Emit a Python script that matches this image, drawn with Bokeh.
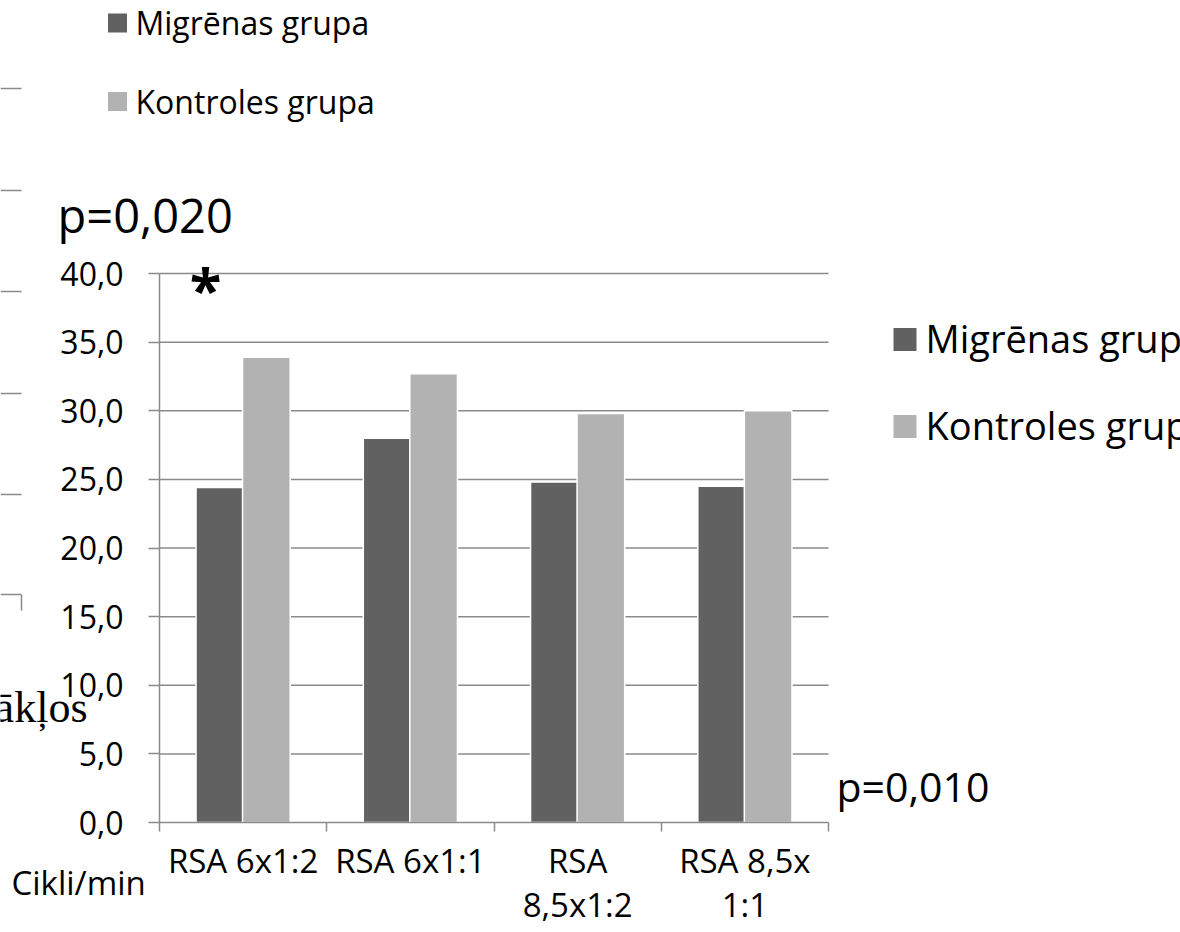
from bokeh.plotting import figure
from bokeh.models import Range1d, LinearAxis, FixedTicker, CustomJSTickFormatter, Label
from bokeh.embed import file_html
from bokeh.resources import INLINE

# ---------------- data ----------------
categories = ["RSA 6x1:2", "RSA 6x1:1", "RSA\n8,5x1:2", "RSA 8,5x\n1:1"]
migrenas_grupa = [24.4, 28.0, 24.8, 24.5]
kontroles_grupa = [33.9, 32.7, 29.8, 30.0]
series_names = ["Migrēnas grupa", "Kontroles grupa"]
y_ticks = [0, 5, 10, 15, 20, 25, 30, 35, 40]
x_title = "Cikli/min"
p_values = ["p=0,020", "p=0,010"]
star = "*"
stray_text = "ākļos"

# ---------------- styles ----------------
DARK = "#616161"
LIGHT = "#b2b2b2"
GRID = "#8a8a8a"
FONT = "Open Sans"
W, H = 1180, 932

# picture pixel -> data coordinates
X0_PX, X4_PX = 159.0, 828.0
Y0_PX, Y40_PX = 822.0, 273.0
XU = (X4_PX - X0_PX) / 4.0
YU = (Y0_PX - Y40_PX) / 40.0


def X(px):
    return (px - X0_PX) / XU


def Y(py):
    return (Y0_PX - py) / YU


p = figure(width=W, height=H,
           x_range=Range1d(X(0), X(W)), y_range=Range1d(Y(H), Y(0)),
           x_axis_location=None, y_axis_location=None,
           toolbar_location=None, output_backend="svg",
           min_border=0, outline_line_color=None,
           background_fill_color="white", border_fill_color="white")
p.grid.visible = False

n = len(categories)
centers = [i + 0.5 for i in range(n)]
bounds = [float(i) for i in range(n + 1)]

# gridlines (from tick list)
gy = [t for t in y_ticks if t > 0]
p.segment(x0=[0] * len(gy), x1=[n] * len(gy), y0=gy, y1=gy,
          line_color=GRID, line_width=1.5)

# bars
off, bw = 0.139, 0.285
p.vbar(x=[c - off for c in centers], top=migrenas_grupa, width=bw,
       fill_color=DARK, line_color="white", line_width=1.5)
p.vbar(x=[c + off for c in centers], top=kontroles_grupa, width=bw,
       fill_color=LIGHT, line_color="white", line_width=1.5)

# axes
yaxis = LinearAxis(fixed_location=0, bounds=(0, 40),
                   ticker=FixedTicker(ticks=y_ticks),
                   formatter=CustomJSTickFormatter(code="return tick.toFixed(1).replace('.', ',')"),
                   axis_line_color=GRID, axis_line_width=1.5,
                   major_tick_line_color=GRID, major_tick_line_width=1.5,
                   major_tick_out=11, major_tick_in=0,
                   minor_tick_out=0, minor_tick_in=0,
                   major_label_standoff=25,
                   major_label_text_font=FONT, major_label_text_font_size="32px",
                   major_label_text_color="black")
p.add_layout(yaxis, "left")

xaxis = LinearAxis(fixed_location=0, bounds=(0, n),
                   ticker=FixedTicker(ticks=centers, minor_ticks=bounds),
                   major_label_overrides={c: lab for c, lab in zip(centers, categories)},
                   axis_line_color=GRID, axis_line_width=1.5,
                   major_tick_out=0, major_tick_in=0,
                   minor_tick_line_color=GRID, minor_tick_line_width=1.5,
                   minor_tick_out=9, minor_tick_in=0,
                   major_label_standoff=6,
                   major_label_text_font=FONT, major_label_text_font_size="33px",
                   major_label_text_color="black",
                   major_label_text_line_height=0.98)
p.add_layout(xaxis, "below")


def text(x, y, s, size, font=FONT, align="left", style="normal"):
    p.add_layout(Label(x=x, y=y, text=s, text_font=font, text_font_size=size,
                       text_font_style=style, text_color="black",
                       text_align=align, text_baseline="middle"))


# x title at left
text(X(11), Y(882), x_title, "33px")

# top legend
for i, (name, col) in enumerate(zip(series_names, [DARK, LIGHT])):
    p.scatter(x=[X(117)], y=[Y(22.5 + 78.5 * i)], marker="square", size=19,
              fill_color=col, line_color=None)
    text(X(135), Y(22 + 79 * i), name, "32px")

# right legend (cut by the page edge, as in the original)
for i, (name, col) in enumerate(zip(series_names, [DARK, LIGHT])):
    p.scatter(x=[X(904.5)], y=[Y(339 + 87 * i)], marker="square", size=23,
              fill_color=col, line_color=None)
    text(X(925), Y(337 + 87 * i), name, "38px")

# p-values and star
text(X(57), Y(214), p_values[0], "47px")
text(X(836), Y(785), p_values[1], "41px")
text(X(205), Y(288), star, "58px", align="center", style="bold")

# stray fragments at the left edge
text(X(87), Y(707), stray_text, "44px", font="Liberation Serif", align="right")
stray_y = [88, 190, 291, 393, 494, 594]
p.segment(x0=[X(0)] * len(stray_y), x1=[X(21)] * len(stray_y),
          y0=[Y(v) for v in stray_y], y1=[Y(v) for v in stray_y],
          line_color=GRID, line_width=1.5)
p.segment(x0=[X(21)], x1=[X(21)], y0=[Y(594)], y1=[Y(610)],
          line_color=GRID, line_width=1.5)

open("out.html", "w").write(file_html(p, INLINE))
